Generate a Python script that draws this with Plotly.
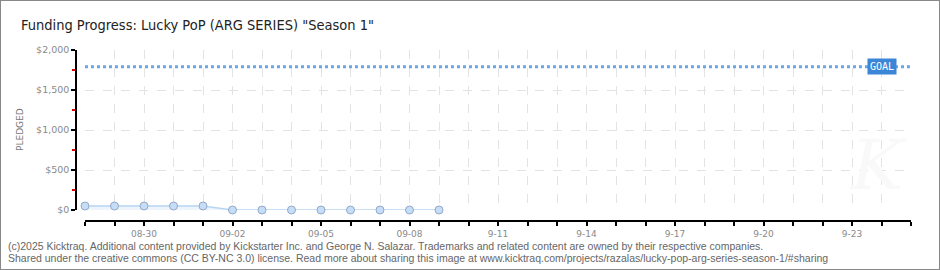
import plotly.graph_objects as go

# ---- data ----
dates = ["2025-08-28", "2025-08-29", "2025-08-30", "2025-08-31", "2025-09-01",
         "2025-09-02", "2025-09-03", "2025-09-04", "2025-09-05", "2025-09-06",
         "2025-09-07", "2025-09-08", "2025-09-09"]
pledged = [50, 50, 50, 50, 50, 0, 0, 0, 0, 0, 0, 0, 0]
goal = 1790
range_dates = ["2025-08-28", "2025-09-25"]
xtick_vals = ["2025-08-30", "2025-09-02", "2025-09-05", "2025-09-08", "2025-09-11",
              "2025-09-14", "2025-09-17", "2025-09-20", "2025-09-23"]
xtick_text = ["08-30", "09-02", "09-05", "09-08", "9-11", "9-14", "9-17", "9-20", "9-23"]
ytick_vals = [0, 500, 1000, 1500, 2000]
ytick_text = ["$0", "$500", "$1,000", "$1,500", "$2,000"]

W, H = 940, 270
YTICKFONT = dict(family="DejaVu Sans", size=9.5, color="#8a8a8a")
XTICKFONT = dict(family="DejaVu Sans", size=9, color="#8a8a8a")

fig = go.Figure()

# goal line
fig.add_trace(go.Scatter(
    x=range_dates, y=[goal, goal], mode="lines",
    line=dict(color="#6aa6ea", width=3, dash="dot"),
    hoverinfo="skip", showlegend=False, cliponaxis=False))

# pledged series
fig.add_trace(go.Scatter(
    x=dates, y=pledged, mode="lines+markers",
    line=dict(color="#b7d5f3", width=1.5),
    fill="tozeroy", fillcolor="rgba(225,236,248,0.6)",
    marker=dict(size=8, color="#c6ddf7", line=dict(color="#93a9c6", width=1)),
    showlegend=False, cliponaxis=False))

fig.update_layout(
    width=W, height=H,
    margin=dict(l=0, r=0, t=0, b=0),
    paper_bgcolor="white", plot_bgcolor="white",
    showlegend=False,
    xaxis=dict(
        type="date",
        domain=[85 / W, 911 / W],
        range=range_dates,
        anchor="free", position=49 / H,
        showline=True, linecolor="#000", linewidth=1.5,
        tickmode="array", tickvals=xtick_vals, ticktext=xtick_text,
        ticks="outside", ticklen=4, tickcolor="#000", tickwidth=1.5,
        tickfont=XTICKFONT, ticklabelstandoff=0,
        showgrid=True, gridcolor="#e3e3e3", griddash="dash", gridwidth=1,
        minor=dict(dtick=86400000, tick0="2025-08-28", ticks="outside",
                   ticklen=4, tickcolor="#000", tickwidth=1.5,
                   showgrid=True, gridcolor="#e3e3e3", griddash="dash"),
        zeroline=False, automargin=False, fixedrange=True,
    ),
    yaxis=dict(
        domain=[60 / H, 220 / H],
        range=[0, 2000],
        anchor="free", position=76 / W,
        showline=True, linecolor="#000", linewidth=1.5,
        tickmode="array", tickvals=ytick_vals, ticktext=ytick_text,
        ticks="outside", ticklen=4, tickcolor="#000", tickwidth=1.5,
        tickfont=YTICKFONT,
        showgrid=True, gridcolor="#e3e3e3", griddash="dash", gridwidth=1,
        minor=dict(dtick=250, tick0=250, ticks="outside", ticklen=3,
                   tickcolor="#e00000", tickwidth=1.5, showgrid=False),
        zeroline=False, automargin=False, fixedrange=True,
    ),
    annotations=[
        dict(text='Funding Progress: Lucky PoP (ARG SERIES) "Season 1"',
             xref="paper", yref="paper", x=19 / W, y=1 - 25 / H,
             xanchor="left", yanchor="middle", showarrow=False,
             font=dict(family="DejaVu Sans Condensed", size=14.5, color="#222")),
        dict(text="PLEDGED", xref="paper", yref="paper", x=20 / W, y=1 - 130 / H,
             textangle=-90, showarrow=False, xanchor="center", yanchor="middle",
             font=dict(family="DejaVu Sans", size=9, color="#777")),
        dict(text="GOAL", xref="x", yref="y", x="2025-09-24", y=goal,
             xanchor="center", yanchor="middle", showarrow=False,
             bgcolor="#3b86d6", borderpad=2,
             font=dict(family="DejaVu Sans Mono", size=10, color="white")),
        dict(text="<i>K</i>", xref="paper", yref="paper", x=878 / W, y=1 - 165 / H,
             showarrow=False, xanchor="center", yanchor="middle",
             font=dict(family="DejaVu Serif", size=70, color="#f9f9f9")),
        dict(text="(c)2025 Kicktraq. Additional content provided by Kickstarter Inc. and George N. Salazar. "
                  "Trademarks and related content are owned by their respective companies.",
             xref="paper", yref="paper", x=6 / W, y=1 - 246 / H,
             xanchor="left", yanchor="middle", showarrow=False,
             font=dict(family="Liberation Sans", size=10.5, color="#666")),
        dict(text="Shared under the creative commons (CC BY-NC 3.0) license. Read more about sharing this image at "
                  "www.kicktraq.com/projects/razalas/lucky-pop-arg-series-season-1/#sharing",
             xref="paper", yref="paper", x=6 / W, y=1 - 258 / H,
             xanchor="left", yanchor="middle", showarrow=False,
             font=dict(family="Liberation Sans", size=10.5, color="#666")),
    ],
    shapes=[
        dict(type="rect", xref="paper", yref="paper", x0=0, x1=1, y0=0, y1=1,
             line=dict(color="#888", width=2), layer="above"),
    ],
)

fig.write_html("out.html")
